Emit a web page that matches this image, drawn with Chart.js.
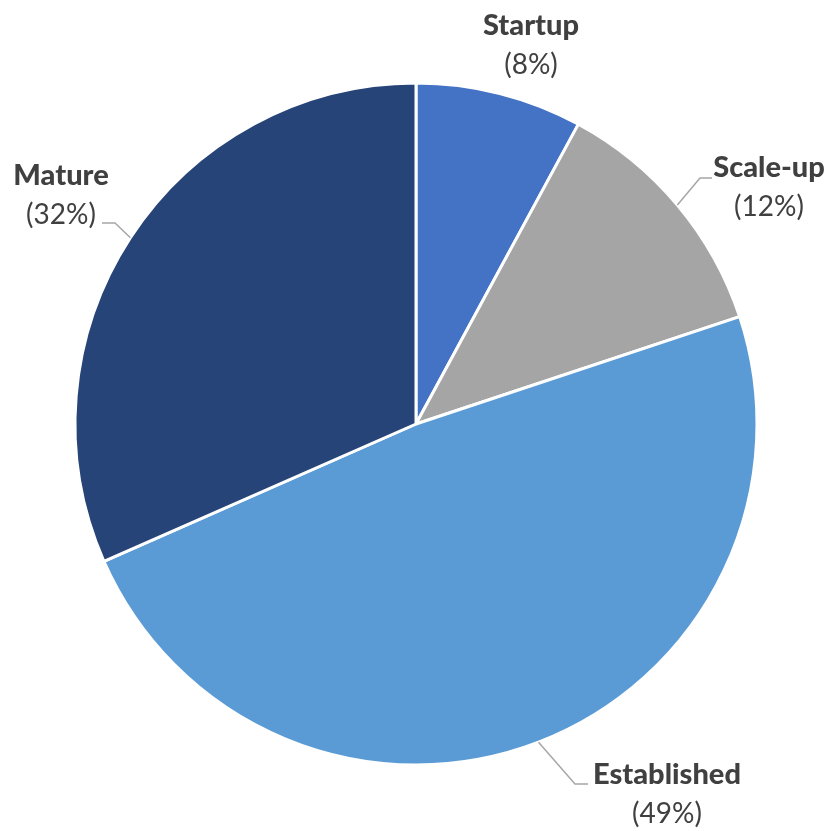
<!DOCTYPE html>
<html>
<head>
<meta charset="utf-8">
<script src="https://cdn.jsdelivr.net/npm/chart.js@4"></script>
<style>
  html, body { margin: 0; padding: 0; background: #fff; }
  #wrap { width: 831px; height: 831px; }
</style>
</head>
<body>
<div id="wrap"><canvas id="pie"></canvas></div>
<script>
const categories = ['Startup', 'Scale-up', 'Established', 'Mature'];
const shares = [7.9, 12.0, 48.5, 31.6];
const colors = ['#4472C4', '#A5A5A5', '#5B9BD5', '#264478'];

// where each label sits (baseline of first line) and how its leader bends
const labelLayout = [
    { x: 531, y: 35, leader: null },
    { x: 769, y: 177, leader: { elbow: [700, 178], end: [712, 178] } },
    { x: 667, y: 784, leader: { elbow: [575, 784], end: [588, 784] } },
    { x: 61, y: 185, leader: { elbow: [115, 223], end: [102, 223] } }
];

const pieLabels = {
    id: 'pieLabels',
    afterDatasetsDraw(chart) {
        const ctx = chart.ctx;
        const arcs = chart.getDatasetMeta(0).data;
        const total = shares.reduce((a, b) => a + b, 0);
        ctx.save();
        arcs.forEach((arc, i) => {
            const lay = labelLayout[i];
            if (lay.leader) {
                const mid = (arc.startAngle + arc.endAngle) / 2;
                const sx = arc.x + Math.cos(mid) * arc.outerRadius;
                const sy = arc.y + Math.sin(mid) * arc.outerRadius;
                ctx.strokeStyle = '#A6A6A6';
                ctx.lineWidth = 1.5;
                ctx.beginPath();
                ctx.moveTo(sx, sy);
                ctx.lineTo(lay.leader.elbow[0], lay.leader.elbow[1]);
                ctx.lineTo(lay.leader.end[0], lay.leader.end[1]);
                ctx.stroke();
            }
            ctx.fillStyle = '#404040';
            ctx.textAlign = 'center';
            ctx.textBaseline = 'alphabetic';
            ctx.font = '900 29px Lato';
            ctx.fillText(categories[i], lay.x, lay.y);
            ctx.font = '28px Lato';
            const pct = Math.round(shares[i] / total * 100);
            ctx.fillText('(' + pct + '%)', lay.x, lay.y + 39);
        });
        ctx.restore();
    }
};

new Chart(document.getElementById('pie'), {
    type: 'pie',
    data: {
        labels: categories,
        datasets: [{
            data: shares,
            backgroundColor: colors,
            borderColor: '#ffffff',
            borderWidth: 3
        }]
    },
    options: {
        responsive: true,
        maintainAspectRatio: false,
        animation: false,
        radius: 341,
        layout: {
            padding: { left: 75, right: 74, top: 83, bottom: 66 }
        },
        plugins: {
            legend: { display: false },
            tooltip: { enabled: false }
        }
    },
    plugins: [pieLabels]
});
</script>
</body>
</html>
